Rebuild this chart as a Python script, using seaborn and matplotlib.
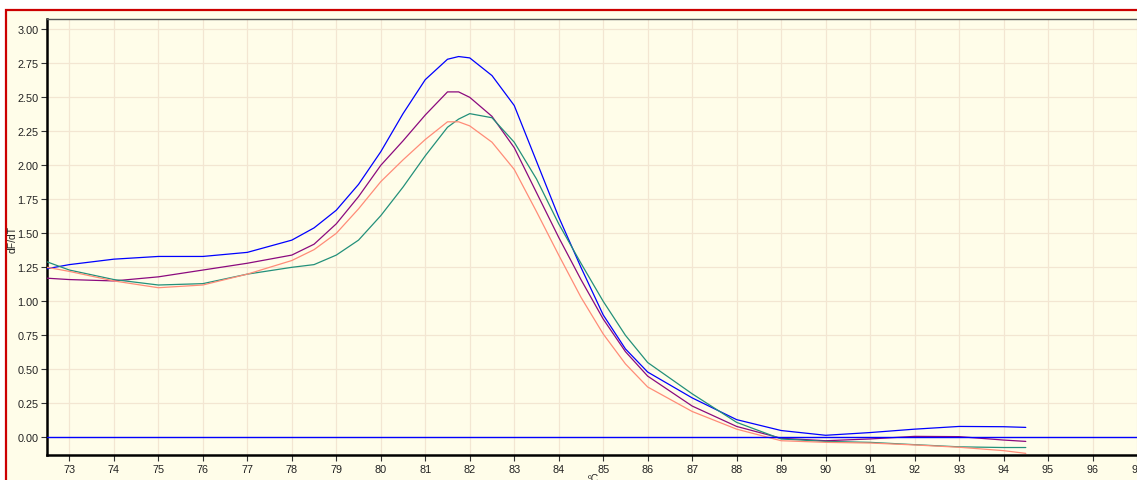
import numpy as np
import pandas as pd
import matplotlib
matplotlib.use("Agg")
import matplotlib.pyplot as plt
import seaborn as sns
from matplotlib.patches import Rectangle

# melt curve derivative readings (dF/dT) per sample
temps = [72.5, 73, 74, 75, 76, 77, 78, 78.5, 79, 79.5, 80, 80.5, 81, 81.5, 81.75,
         82, 82.5, 83, 83.5, 84, 84.5, 85, 85.5, 86, 87, 88, 89, 90, 91, 92, 93, 94, 94.5]

blue = [1.24, 1.27, 1.31, 1.33, 1.33, 1.36, 1.45, 1.54, 1.67, 1.86, 2.10, 2.38, 2.63, 2.78, 2.80,
        2.79, 2.66, 2.44, 2.03, 1.62, 1.25, 0.90, 0.65, 0.48, 0.29, 0.13, 0.05, 0.015, 0.035, 0.06, 0.08, 0.078, 0.073]
purple = [1.17, 1.16, 1.15, 1.18, 1.23, 1.28, 1.34, 1.42, 1.57, 1.77, 2.00, 2.18, 2.37, 2.54, 2.54,
          2.50, 2.36, 2.13, 1.80, 1.47, 1.16, 0.87, 0.63, 0.45, 0.23, 0.08, -0.007, -0.025, -0.012, 0.007, 0.005, -0.02, -0.03]
teal = [1.29, 1.23, 1.16, 1.12, 1.13, 1.20, 1.25, 1.27, 1.34, 1.45, 1.63, 1.84, 2.07, 2.28, 2.34,
        2.38, 2.35, 2.17, 1.90, 1.57, 1.28, 1.00, 0.75, 0.55, 0.32, 0.11, -0.012, -0.03, -0.037, -0.054, -0.07, -0.075, -0.075]
salmon = [1.25, 1.22, 1.15, 1.10, 1.12, 1.20, 1.30, 1.38, 1.50, 1.68, 1.88, 2.04, 2.19, 2.32, 2.32,
          2.29, 2.17, 1.97, 1.66, 1.34, 1.03, 0.76, 0.54, 0.37, 0.19, 0.06, -0.025, -0.037, -0.042, -0.056, -0.073, -0.098, -0.118]

x_ticks = list(range(73, 98))
y_ticks = [0.00, 0.25, 0.50, 0.75, 1.00, 1.25, 1.50, 1.75, 2.00, 2.25, 2.50, 2.75, 3.00]

series = {'blue': blue, 'purple': purple, 'teal': teal, 'salmon': salmon}
colors = {'blue': '#0000FF', 'purple': '#8B0A7E', 'teal': '#23907A', 'salmon': '#FF8C78'}

df = pd.concat([pd.DataFrame({'T': temps, 'dFdT': v, 'sample': k}) for k, v in series.items()])

sns.set_style('white')
plt.rcParams['font.family'] = ['Liberation Sans', 'DejaVu Sans']

cream = '#FFFDE9'
fig = plt.figure(figsize=(11.37, 4.81), dpi=100, facecolor='white')
# panel with red frame, kept behind the axes
fig.patches.append(Rectangle((6 / 1137, -0.05), 1.1, (481 - 11) / 481 + 0.05, transform=fig.transFigure,
                             facecolor=cream, edgecolor='#CC0000', linewidth=1.6, zorder=-10))

ax = fig.add_axes([46.7 / 1137, 25 / 481, 1 - 46.7 / 1137, (456 - 20) / 481])
ax.set_zorder(1)
ax.set_facecolor(cream)

sns.lineplot(data=df, x='T', y='dFdT', hue='sample', palette=colors, linewidth=0.9,
             legend=False, ax=ax, zorder=3)
ax.axhline(0, color='#0000FF', lw=1.0, zorder=4)

ax.set_xlim(72.49, 96.94)
ax.set_ylim(-0.13, 3.076)
ax.set_xticks(x_ticks)
ax.set_yticks(y_ticks)
ax.set_yticklabels([f'{v:.2f}' for v in y_ticks])
ax.grid(True, color='#F3E6D2', linewidth=0.9)
ax.set_axisbelow(True)
ax.tick_params(axis='both', labelsize=7.8, length=4, width=0.8, color='#333333',
               labelcolor='#222222', direction='out', pad=2)
ax.tick_params(axis='x', pad=2.5)
ax.tick_params(left=True, bottom=True)

for s in ['left', 'bottom']:
    ax.spines[s].set_color('black')
    ax.spines[s].set_linewidth(1.8)
ax.spines['top'].set_color('#555555')
ax.spines['top'].set_linewidth(1.0)
ax.spines['right'].set_visible(False)

ax.set_xlabel('')
ax.set_ylabel('')
fig.text(13 / 1137, 1 - 240 / 481, 'dF/dT', rotation=90, fontsize=7.5, color='#222222',
         ha='center', va='center')
fig.text(593 / 1137, 1 - 474 / 481, 'ºC', fontsize=7.5, color='#222222', ha='center', va='top')

fig.savefig('out.png', dpi=100, facecolor='white')
